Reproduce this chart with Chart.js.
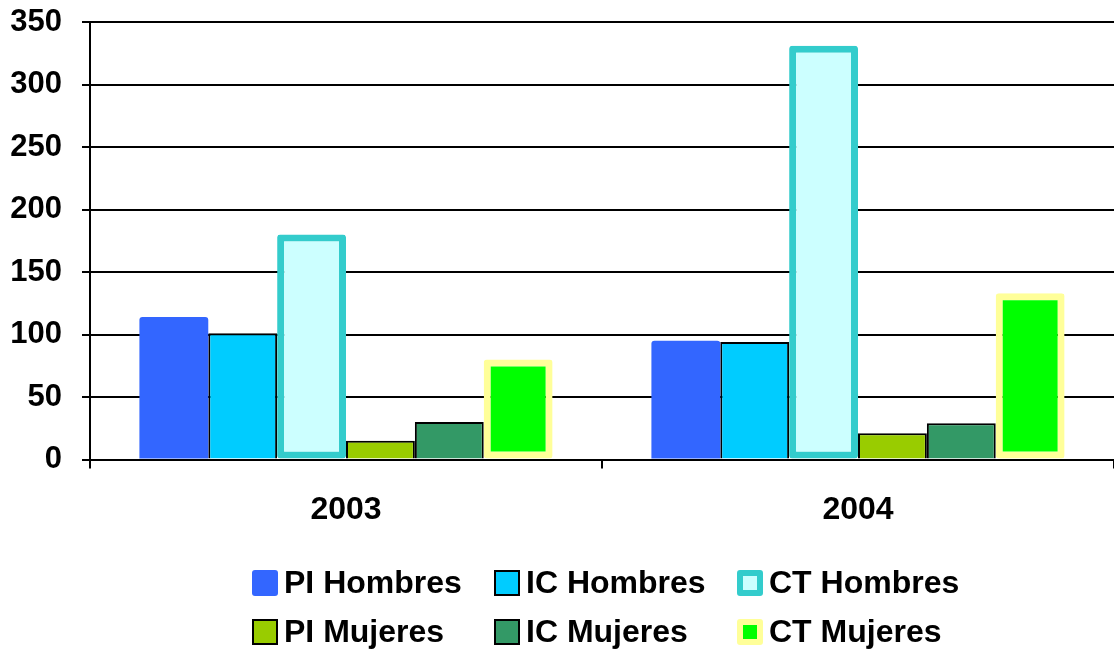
<!DOCTYPE html>
<html lang="es">
<head>
<meta charset="utf-8">
<title>PI, IC y CT por sexo, 2003-2004</title>
<script src="https://cdn.jsdelivr.net/npm/chart.js@4.4.1/dist/chart.umd.min.js"></script>
<style>
  html, body { margin: 0; padding: 0; background: #fff; }
  #wrap { position: relative; width: 1114px; height: 652px; overflow: hidden; }
  #legend {
    position: absolute; left: 252px; top: 558px;
    display: grid; grid-template-columns: 242px 243px 243px; grid-auto-rows: 49px;
    font: bold 32px "Liberation Sans", Arial, sans-serif; color: #000;
  }
  #legend .item { display: flex; align-items: center; white-space: nowrap; }
  #legend .box { width: 26px; height: 26px; box-sizing: border-box; margin-right: 6px; }
</style>
</head>
<body>
<div id="wrap">
  <canvas id="chart" width="1114" height="652"></canvas>
  <div id="legend"></div>
</div>
<script>
// datos
const years = ["2003", "2004"];
const seriesNames = ["PI Hombres", "IC Hombres", "CT Hombres", "PI Mujeres", "IC Mujeres", "CT Mujeres"];
const piHombres = [114, 95];
const icHombres = [101, 94];
const ctHombres = [180, 331];
const piMujeres = [15, 21];
const icMujeres = [30, 29];
const ctMujeres = [80, 133];
const yMax = 350;
const yStep = 50;

const FONT = "'Liberation Sans', Arial, sans-serif";

const styles = [
  { bg: "#3366ff", border: "#3366ff", width: 0, skip: "start", radius: 3 },
  { bg: "#00ccff", border: "#000000", width: 2, skip: "start", radius: 0 },
  { bg: "#ccffff", border: "#33cccc", width: 7, skip: false, radius: 3 },
  { bg: "#99cc00", border: "#000000", width: 2, skip: "start", radius: 0 },
  { bg: "#339966", border: "#000000", width: 2, skip: "start", radius: 0 },
  { bg: "#00ff00", border: "#ffff99", width: 7, skip: false, radius: 3 }
];

const values = [piHombres, icHombres, ctHombres, piMujeres, icMujeres, ctMujeres];

const datasets = seriesNames.map((name, i) => ({
  label: name,
  data: values[i],
  backgroundColor: styles[i].bg,
  borderColor: styles[i].border,
  borderWidth: styles[i].width,
  borderSkipped: styles[i].skip,
  borderRadius: styles[i].radius,
  categoryPercentage: 0.807,
  barPercentage: 1.0
}));

const ctx = document.getElementById("chart").getContext("2d");
const chart = new Chart(ctx, {
  type: "bar",
  data: { labels: years, datasets: datasets },
  options: {
    responsive: false,
    animation: false,
    layout: { padding: { top: 22, left: 0, right: -4, bottom: 101 } },
    plugins: {
      legend: { display: false },
      tooltip: { enabled: false }
    },
    scales: {
      x: {
        grid: {
          drawOnChartArea: false,
          color: "#000",
          lineWidth: 2,
          tickLength: 9
        },
        border: { display: true, color: "#000", width: 2 },
        ticks: {
          color: "#000",
          padding: 22,
          font: { family: FONT, size: 32, weight: "bold" }
        }
      },
      y: {
        min: 0,
        max: yMax,
        afterFit: (scale) => {
          scale.width = 90;
          scale.paddingTop = 0;
          scale.paddingBottom = 0;
        },
        grid: {
          color: "#000",
          lineWidth: 2,
          tickLength: 8
        },
        border: { display: true, color: "#000", width: 2 },
        ticks: {
          stepSize: yStep,
          color: "#000",
          padding: 20,
          font: { family: FONT, size: 31, weight: "bold" }
        }
      }
    }
  }
});

// leyenda en 3 columnas, armada desde los datasets
const legendEl = document.getElementById("legend");
chart.data.datasets.forEach((ds) => {
  const item = document.createElement("div");
  item.className = "item";
  const box = document.createElement("span");
  box.className = "box";
  box.style.background = ds.backgroundColor;
  const bw = Math.min(ds.borderWidth, 6);
  box.style.border = bw ? bw + "px solid " + ds.borderColor : "none";
  if (ds.borderRadius) box.style.borderRadius = "3px";
  const txt = document.createElement("span");
  txt.textContent = ds.label;
  item.appendChild(box);
  item.appendChild(txt);
  legendEl.appendChild(item);
});
</script>
</body>
</html>
